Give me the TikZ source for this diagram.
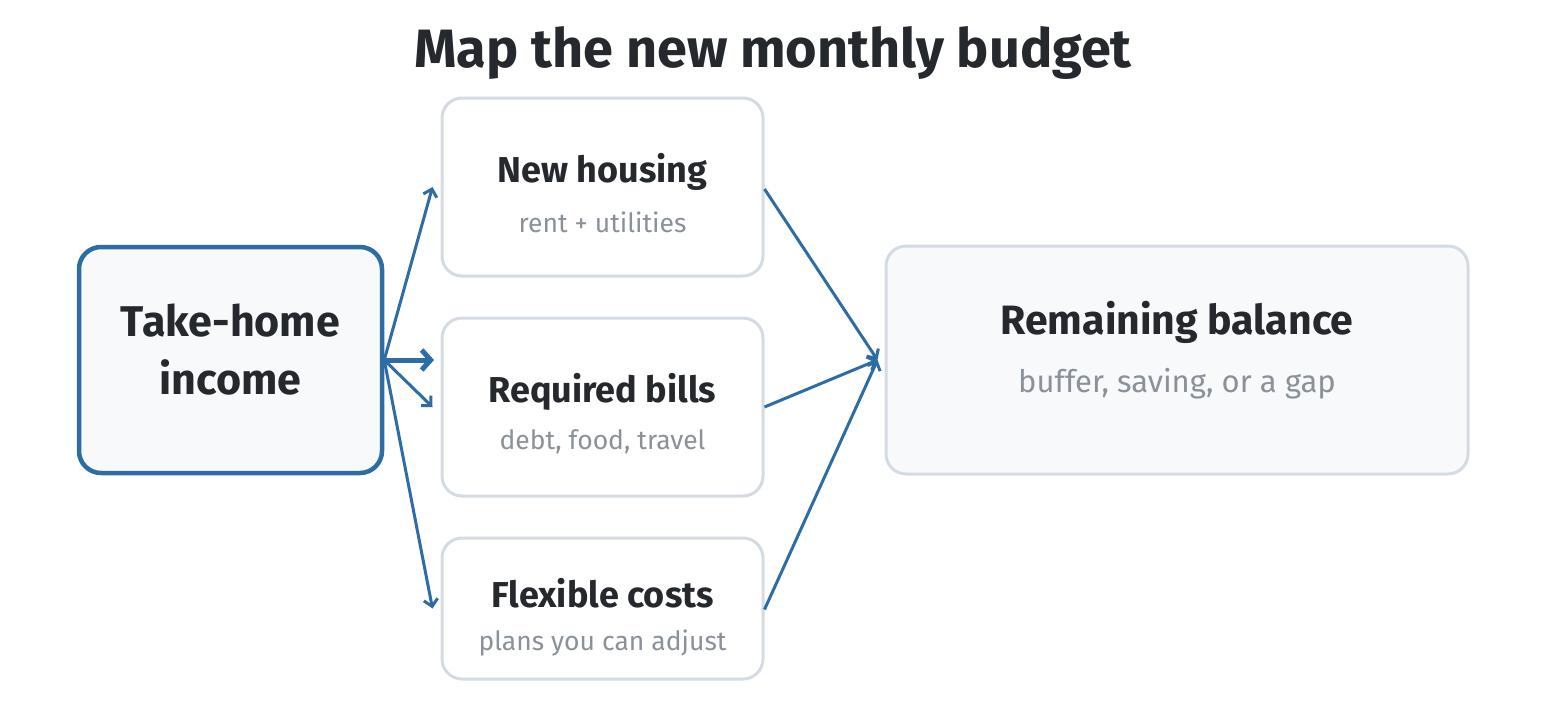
\documentclass[tikz,border=0pt]{standalone}
\usepackage{fontspec}
\setmainfont{Fira Sans}
\usepackage{tikz}
\usetikzlibrary{calc,arrows,arrows.meta,shapes,positioning}

\definecolor{flowblue}{HTML}{2E6DA4}
\definecolor{inkdark}{HTML}{25282C}
\definecolor{inkgray}{HTML}{8A9199}
\definecolor{edgegray}{HTML}{D4DBE2}
\definecolor{paleback}{HTML}{F7F9FB}

\tikzset{
  card/.style={rectangle, rounded corners=20pt, draw=edgegray, line width=3pt,
    fill=white, minimum width=321pt, align=center, inner sep=0pt},
  mainbox/.style={rectangle, rounded corners=22pt, draw=flowblue, line width=4.5pt,
    fill=paleback, minimum width=303pt, minimum height=226pt},
  endbox/.style={card, fill=paleback, minimum width=582pt, minimum height=228pt},
  flow/.style={-{Straight Barb[length=7pt,width=14pt]}, draw=flowblue, line width=3pt},
  head/.style={font=\fontsize{36}{42}\selectfont\bfseries, text=inkdark},
  sub/.style={font=\fontsize{26.5}{32}\selectfont, text=inkgray},
}

\begin{document}
\begin{tikzpicture}[x=1pt, y=-1pt]
  \useasboundingbox (0,0) rectangle (1546,720);

  \node[font=\fontsize{54}{60}\selectfont\bfseries, text=inkdark] (title) at (773,53) {Map the new monthly budget};

  % boxes
  \node[mainbox] (income) at (230.5,360) {};
  \node[card, minimum height=178pt] (housing) at (602.5,187) {};
  \node[card, minimum height=178pt] (bills) at (602.5,407) {};
  \node[card, minimum height=141pt] (flex) at (602.5,608.5) {};
  \node[endbox] (rest) at (1177,360) {};

  % texts
  \node[font=\fontsize{43}{58}\selectfont\bfseries, text=inkdark, align=center] (incomeT) at (230.5,350) {Take-home\\income};
  \node[head] (housingT) at (602.5,172) {New housing};
  \node[sub] (housingS) at (602.5,222) {rent + utilities};
  \node[head] (billsT) at (602.5,392) {Required bills};
  \node[sub] (billsS) at (602.5,442) {debt, food, travel};
  \node[head] (flexT) at (602.5,593) {Flexible costs};
  \node[sub] (flexS) at (602.5,643) {plans you can adjust};
  \node[head, font=\fontsize{41}{48}\selectfont\bfseries] (restT) at (1177,322) {Remaining balance};
  \node[sub, font=\fontsize{31}{36}\selectfont] (restS) at (1177,384) {buffer, saving, or a gap};

  \coordinate (split) at (434,360);

  \path
    (income.east) edge[flow] ([xshift=-8pt]housing.west)
                  edge[flow] ([xshift=-8pt]bills.west)
                  edge[flow] ([xshift=-8pt]flex.west)
                  edge[-{Straight Barb[length=9pt,width=20pt]}, draw=flowblue, line width=5pt] (split);
  \path
    ([yshift=-2pt]housing.east) edge[flow] ([xshift=-7pt]rest.west)
    (bills.east) edge[flow] ([xshift=-7pt]rest.west)
    ([yshift=-1pt]flex.east) edge[flow] ([xshift=-7pt]rest.west);
\end{tikzpicture}
\end{document}
